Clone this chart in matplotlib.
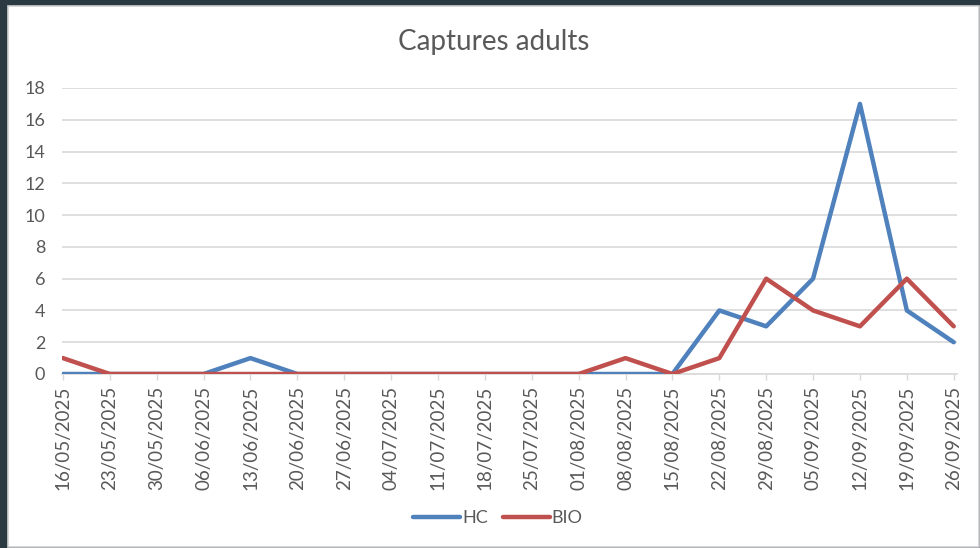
import matplotlib
matplotlib.use('Agg')

import matplotlib.pyplot as plt
from matplotlib.patches import Rectangle

plt.rcParams['font.family'] = ['Lato', 'DejaVu Sans']

dates = [
    '16/05/2025', '23/05/2025', '30/05/2025', '06/06/2025', '13/06/2025',
    '20/06/2025', '27/06/2025', '04/07/2025', '11/07/2025', '18/07/2025',
    '25/07/2025', '01/08/2025', '08/08/2025', '15/08/2025', '22/08/2025',
    '29/08/2025', '05/09/2025', '12/09/2025', '19/09/2025', '26/09/2025'
]
hc = [0, 0, 0, 0, 1, 0, 0, 0, 0, 0, 0, 0, 0, 0, 4, 3, 6, 17, 4, 2]
bio = [1, 0, 0, 0, 0, 0, 0, 0, 0, 0, 0, 0, 1, 0, 1, 6, 4, 3, 6, 3]
yticks = [0, 2, 4, 6, 8, 10, 12, 14, 16, 18]

W, H = 980, 548
text_col = '#595959'
grid_col = '#d9d9d9'

fig = plt.figure(figsize=(W / 100, H / 100), dpi=100)
fig.patch.set_facecolor('#2b3a42')

# white chart area with light border, like the excel screenshot
fig.patches.append(Rectangle((8 / W, 1 - 547 / H), 971 / W, 541 / H,
                             transform=fig.transFigure, facecolor='white',
                             edgecolor='#d0d0d0', linewidth=1.2, zorder=-10))

ax = fig.add_axes([62 / W, 1 - 374 / H, (957 - 62) / W, (374 - 88) / H])
ax.set_facecolor('none')

x = list(range(len(dates)))
ax.plot(x, hc, color='#4f81bd', linewidth=3.2, label='HC',
        solid_joinstyle='round', solid_capstyle='round', zorder=3)
ax.plot(x, bio, color='#c0504d', linewidth=3.2, label='BIO',
        solid_joinstyle='round', solid_capstyle='round', zorder=3)

ax.set_xlim(-0.02, 19.07)
ax.set_ylim(0, 18)
ax.set_yticks(yticks)
ax.set_yticklabels([str(v) for v in yticks])
ax.set_xticks(x)
ax.set_xticklabels(dates, rotation=90)

ax.grid(axis='y', color=grid_col, linewidth=1.2)
ax.set_axisbelow(True)
for s in ['left', 'right', 'top']:
    ax.spines[s].set_visible(False)
ax.spines['bottom'].set_color(grid_col)
ax.spines['bottom'].set_linewidth(1.2)

ax.tick_params(axis='y', length=0, pad=12, labelsize=13, labelcolor=text_col)
ax.tick_params(axis='x', length=4.5, width=1, color=grid_col, pad=4,
               labelsize=13.5, labelcolor=text_col)

fig.text(494 / W, 1 - 42 / H, 'Captures adults', ha='center', va='center',
         fontsize=20, color=text_col)

fig.legend(loc='center', bbox_to_anchor=(498 / W, 1 - 518 / H), ncol=2,
           frameon=False, fontsize=13, labelcolor=text_col, handlelength=2.6,
           handletextpad=0.1, columnspacing=0.85)

fig.savefig('out.png', dpi=100, facecolor=fig.get_facecolor())
